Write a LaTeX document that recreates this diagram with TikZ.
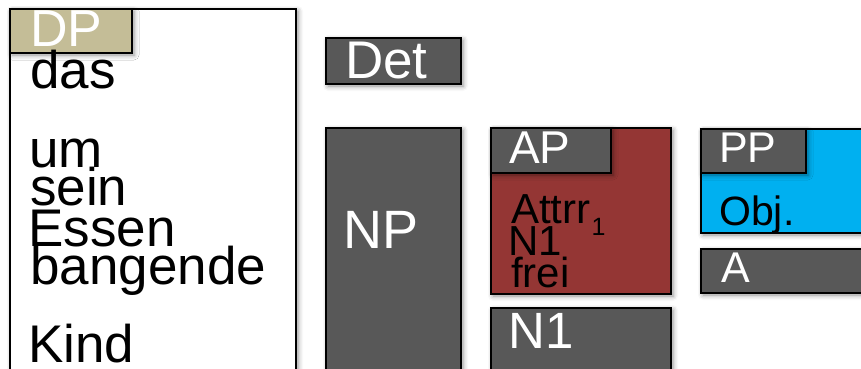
\documentclass[tikz,border=0pt]{standalone}
\usepackage{fontspec}
\setmainfont{Liberation Sans}
\usetikzlibrary{shadows.blur}
\definecolor{dpkhaki}{HTML}{C4BD97}
\definecolor{boxgray}{HTML}{585858}
\definecolor{apred}{HTML}{943634}
\definecolor{ppcyan}{HTML}{00B0F0}
\tikzset{
  box/.style={draw=black, line width=1.8pt,
    blur shadow={shadow xshift=2pt, shadow yshift=-2pt, shadow blur radius=5pt, shadow opacity=45}},
  lab/.style={anchor=base west, inner sep=0pt, font=\fontsize{#1}{#1}\selectfont},
  wlab/.style={lab=#1, text=white},
  blab/.style={lab=#1, text=black},
}
\begin{document}
\begin{tikzpicture}[x=1pt,y=-1pt]
\useasboundingbox (0,0) rectangle (861,368);
\clip (0,0) rectangle (861,368);
% DP column
\path[box, fill=white] (10,9) rectangle (296,400);
\path[box, fill=dpkhaki] (10,9) rectangle (132,53);
\node[wlab=52] (dp) at (30,46) {DP};
\node[blab=53] (das) at (30,88) {das};
\node[blab=53] (um) at (29,167) {um};
\node[blab=53] (sein) at (30,205) {sein};
\node[blab=53] (essen) at (28,246) {Essen};
\node[blab=53] (bangende) at (30,284) {bangende};
\node[blab=53] (kind) at (28,362) {Kind};
% Det and NP
\path[box, fill=boxgray] (326,38) rectangle (461,84);
\node[wlab=53] (det) at (345,78) {Det};
\path[box, fill=boxgray] (326,128) rectangle (461,400);
\node[wlab=54] (np) at (343,248) {NP};
% AP
\path[box, fill=apred] (491,128) rectangle (671,294);
\path[box, fill=boxgray] (491,128) rectangle (611,173);
\node[wlab=46] (ap) at (509,163) {AP};
\node[blab=42] (attrr) at (511,223) {Attrr\hspace{1pt}\raisebox{-12pt}{\fontsize{25}{25}\selectfont 1}};
\node[blab=42] (n1a) at (508,255) {N1};
\node[blab=42] (frei) at (511,287) {frei};
% N1
\path[box, fill=boxgray] (491,308) rectangle (671,400);
\node[wlab=51] (n1) at (508,348) {N1};
% PP
\path[box, fill=ppcyan] (701,129) rectangle (880,233);
\path[box, fill=boxgray] (701,129) rectangle (806,173);
\node[wlab=43] (pp) at (719,162) {PP};
\node[blab=41] (obj) at (719,225) {Obj.};
% A
\path[box, fill=boxgray] (701,249) rectangle (880,293);
\node[wlab=43] (a) at (721,282) {A};
\end{tikzpicture}
\end{document}
